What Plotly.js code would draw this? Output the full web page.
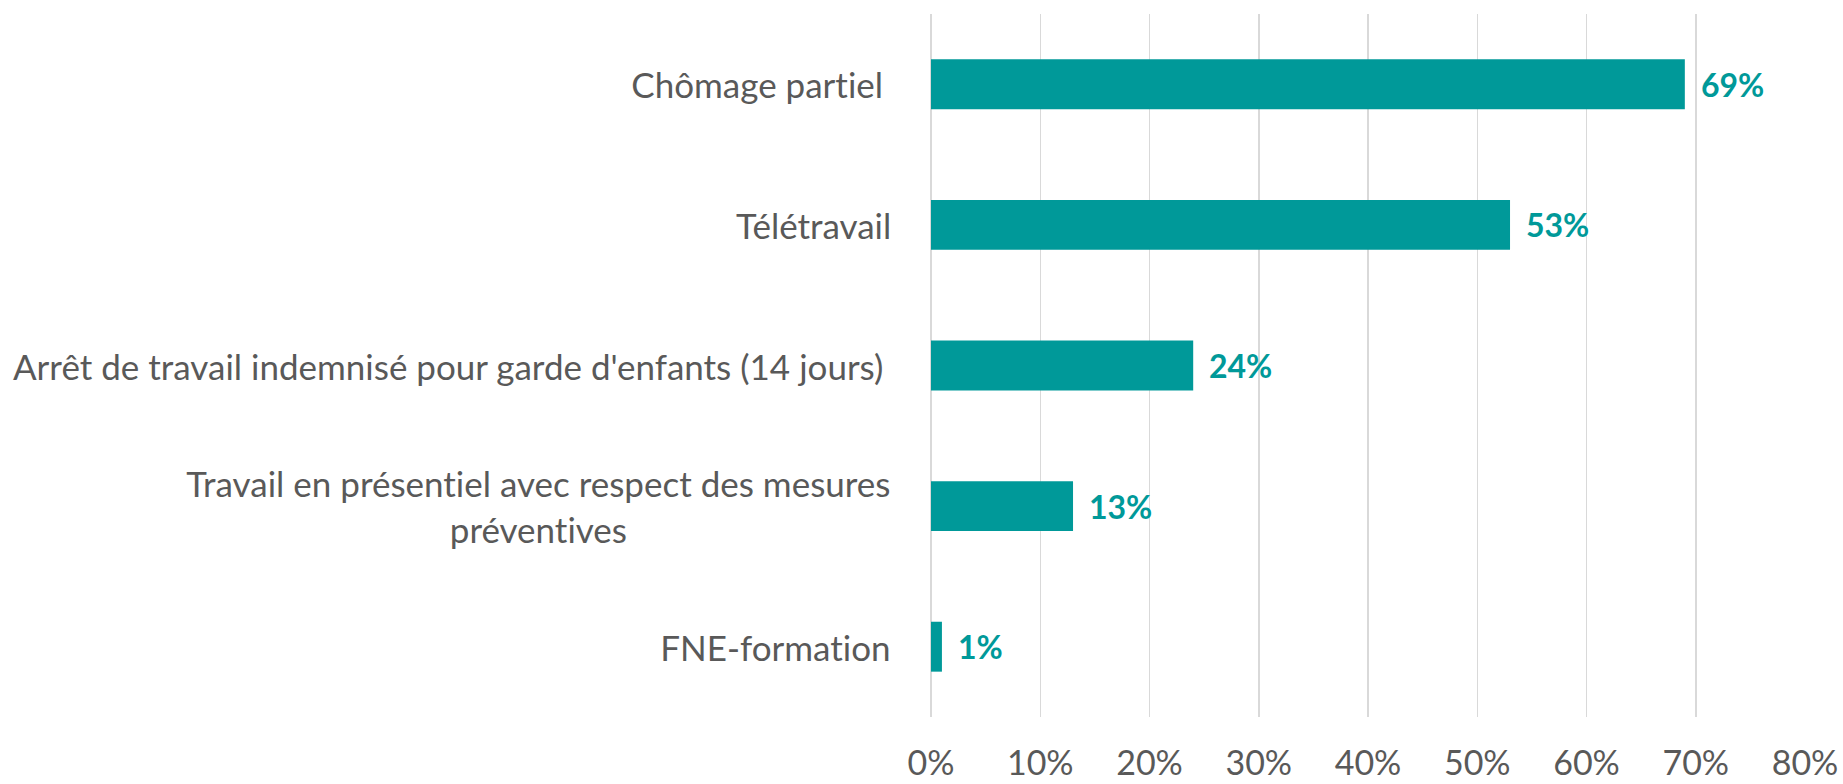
<!DOCTYPE html>
<html>
<head>
<meta charset="utf-8">
<script src="https://cdn.plot.ly/plotly-3.0.1.min.js"></script>
<style>
  html, body { margin: 0; padding: 0; background: #ffffff; }
  #chart { width: 1843px; height: 784px; }
  #chart text { font-variant-ligatures: none !important; font-feature-settings: "liga" 0, "clig" 0 !important; }
</style>
</head>
<body>
<div id="chart"></div>
<script>
const categories = [
  "Chômage partiel",
  "Télétravail",
  "Arrêt de travail indemnisé pour garde d'enfants (14 jours)",
  "Travail en présentiel avec respect des mesures<br>préventives",
  "FNE-formation"
];
const values = [69, 53, 24, 13, 1];
const valueLabels = ["69%", "53%", "24%", "13%", "1%"];
const tickVals = [0, 10, 20, 30, 40, 50, 60, 70, 80];
const tickText = ["0%", "10%", "20%", "30%", "40%", "50%", "60%", "70%", "80%"];

const teal = "#009999";
const grey = "#595959";
const fontFam = "Lato, 'Open Sans', sans-serif";
const labelShift = [-46, -38, -46, -38, -38];

const trace = {
  type: "bar",
  orientation: "h",
  x: values,
  y: categories,
  marker: { color: teal, line: { width: 0 } },
  hoverinfo: "none"
};

const annotations = [];
categories.forEach((c, i) => {
  annotations.push({
    x: 0, xref: "paper", y: c, yref: "y",
    xanchor: "right", yanchor: "middle", xshift: labelShift[i],
    text: c, showarrow: false, align: "center",
    font: { family: fontFam, size: 35, color: grey }
  });
  annotations.push({
    x: values[i], xref: "x", y: c, yref: "y",
    xanchor: "left", yanchor: "middle", xshift: 14,
    text: "<b>" + valueLabels[i] + "</b>", showarrow: false,
    font: { family: fontFam, size: 32, color: teal }
  });
});

const layout = {
  width: 1843, height: 784,
  margin: { l: 931, r: 38, t: 14, b: 67 },
  paper_bgcolor: "#ffffff", plot_bgcolor: "#ffffff",
  showlegend: false,
  bargap: 0.645,
  xaxis: {
    range: [0, 80],
    tickvals: tickVals, ticktext: tickText,
    showgrid: true, gridcolor: "#d9d9d9", gridwidth: 1.5,
    zeroline: true, zerolinecolor: "#d9d9d9", zerolinewidth: 1.5,
    showline: false, ticks: "",
    ticklabelstandoff: 23,
    tickfont: { family: fontFam, size: 34, color: grey },
    fixedrange: true
  },
  yaxis: {
    type: "category",
    categoryorder: "array", categoryarray: categories,
    autorange: "reversed",
    showticklabels: false, showgrid: false, zeroline: false, showline: false, ticks: "",
    fixedrange: true
  },
  annotations: annotations
};

Plotly.newPlot("chart", [trace], layout, { displayModeBar: false, staticPlot: true });
</script>
</body>
</html>
